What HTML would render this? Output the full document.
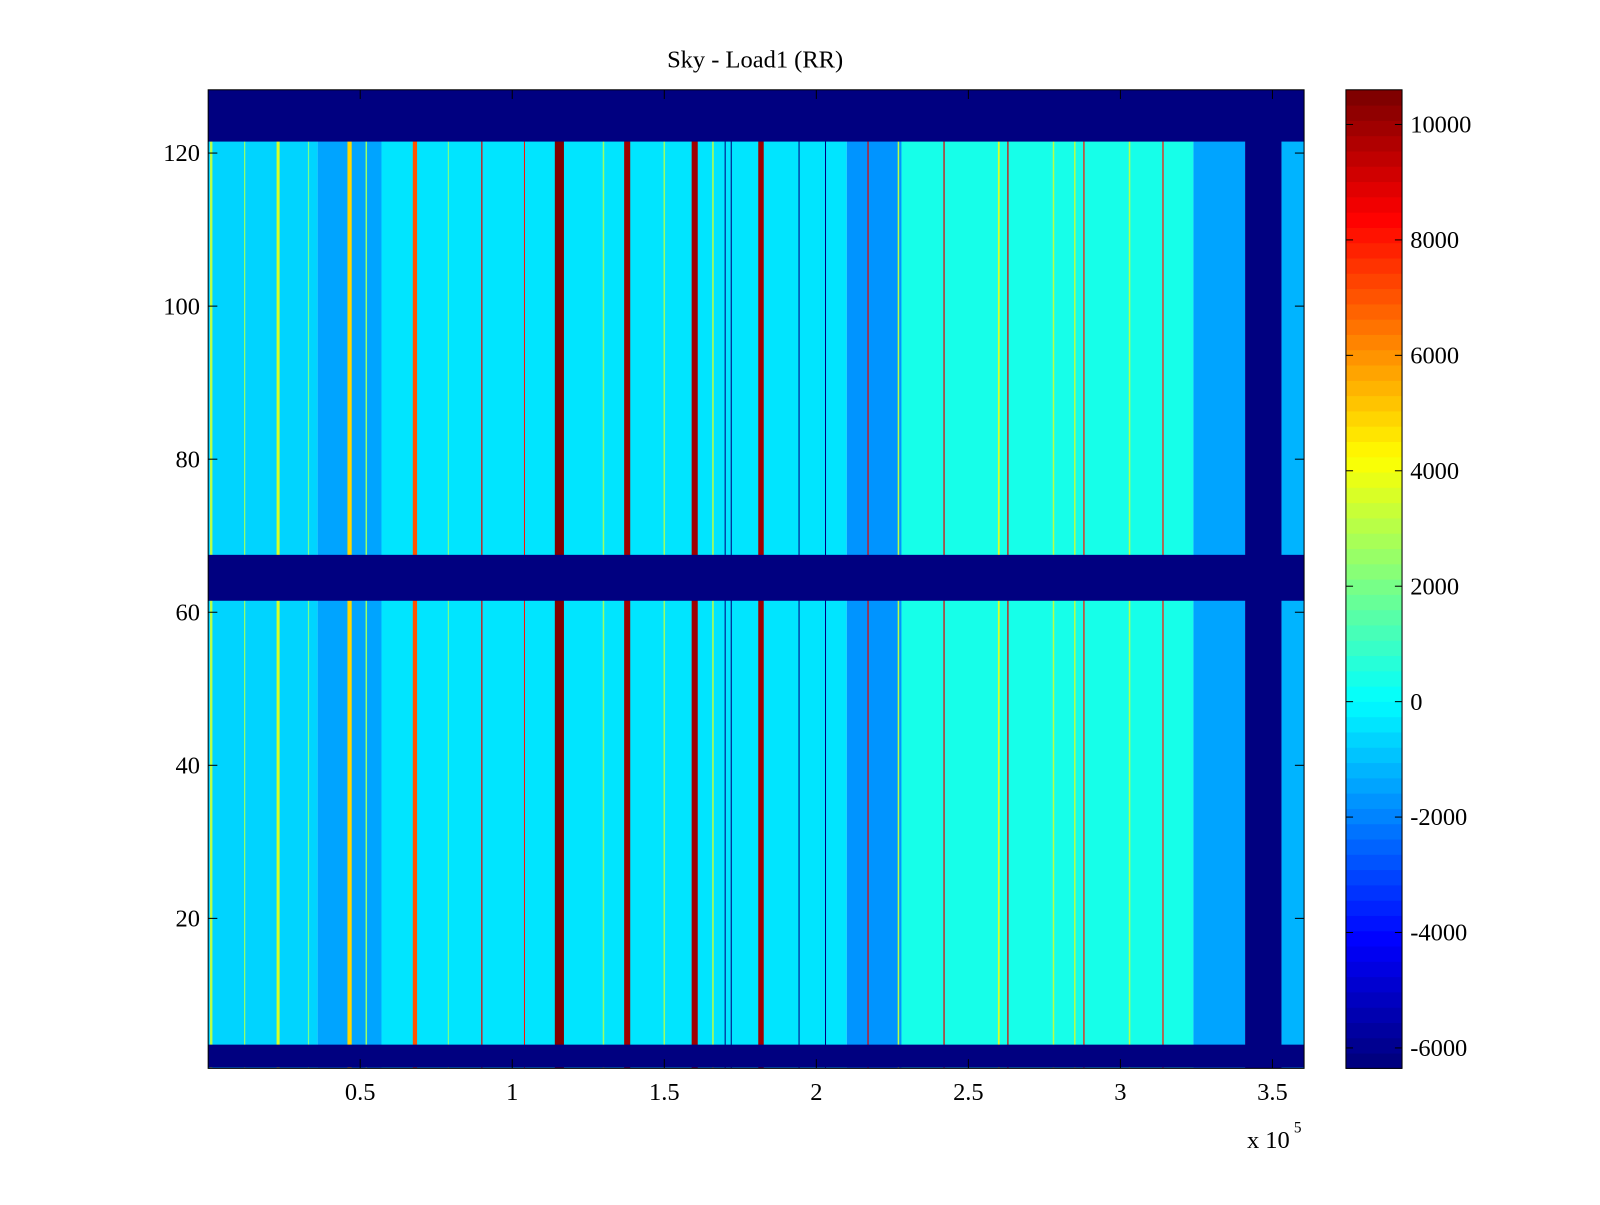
<!DOCTYPE html>
<html><head><meta charset="utf-8"><style>
body{margin:0;background:#fff;width:1600px;height:1200px;overflow:hidden}
svg text{font-family:"Liberation Serif",serif;fill:#000}
</style></head><body>
<svg id="chart" width="1600" height="1200" viewBox="0 0 1600 1200" xmlns="http://www.w3.org/2000/svg">
<rect width="1600" height="1200" fill="#fff"/>
<g transform="scale(1.020408)">
<text x="740" y="66" font-size="24" text-anchor="middle">Sky - Load1 (RR)</text>
<g id="plot"></g>
<g id="cbar"></g>
<g id="axes"></g>
</g>
</svg>
<script>
// data (x in units of 1e5)
const regionStarts=[0,0.36,0.57,2.1,2.28,3.24,3.41,3.53];
const regionEnds=[0.36,0.57,2.1,2.28,3.24,3.41,3.53,3.604];
const regionValues=[-700,-1500,-500,-1700,500,-1500,-6200,-1100];
const stripeX=[0.01,0.23,0.465,0.68,1.155,1.378,1.60,1.818,0.9,1.04,1.70,1.72,1.943,2.03,2.17,2.42,2.63,2.88,3.14,0.12,0.52,1.3,1.5,1.66,2.27,2.6,2.78,2.85,3.03,0.79,0.33];
const stripeW=[0.008,0.01,0.014,0.014,0.03,0.02,0.02,0.018,0.004,0.003,0.003,0.003,0.003,0.003,0.004,0.004,0.004,0.004,0.004,0.004,0.005,0.005,0.005,0.005,0.005,0.006,0.005,0.005,0.005,0.004,0.004];
const stripeV=[3000,3500,5000,7000,10500,10000,10000,10000,9000,8000,-6300,-6300,-6300,-6300,9000,9000,9000,8000,8000,2500,2500,2500,2500,3000,3000,3500,3000,3000,3000,2000,2000];
const maskRowStart=[1,62,122];
const maskRowEnd=[3,67,128];
const xTicks=[0.5,1,1.5,2,2.5,3,3.5];
const xTickLabels=["0.5","1","1.5","2","2.5","3","3.5"];
const yTicks=[20,40,60,80,100,120];
const cTicks=[-6000,-4000,-2000,0,2000,4000,6000,8000,10000];

const NS="http://www.w3.org/2000/svg";
const L=204,R=1278,T=88,B=1047;
const xS=v=>L+(v/3.604)*(R-L);
const yS=r=>1050-r*7.5;
const cMin=-6354,cMax=10601;
const cS=v=>B-(v-cMin)/(cMax-cMin)*(B-T);
function jet(v){let t=(v-cMin)/(cMax-cMin);t=Math.max(0,Math.min(1,t));t=Math.floor(t*63.999)/63;
 const c=x=>Math.round(255*Math.max(0,Math.min(1,x)));
 return `rgb(${c(1.5-Math.abs(4*t-3))},${c(1.5-Math.abs(4*t-2))},${c(1.5-Math.abs(4*t-1))})`;}
function rect(g,x,y,w,h,f,name){const r=document.createElementNS(NS,'rect');
 r.setAttribute('x',x);r.setAttribute('y',y);r.setAttribute('width',Math.max(w,1));r.setAttribute('height',h);r.setAttribute('fill',f);
 
 
 g.appendChild(r);return r;}
function line(g,x1,y1,x2,y2,name){const l=document.createElementNS(NS,'line');
 l.setAttribute('x1',x1);l.setAttribute('y1',y1);l.setAttribute('x2',x2);l.setAttribute('y2',y2);l.setAttribute('stroke','#000');l.setAttribute('stroke-width','1');
 
 
 g.appendChild(l);}
function text(g,x,y,s,anchor,size,name){const t=document.createElementNS(NS,'text');
 t.setAttribute('x',x);t.setAttribute('y',y);t.setAttribute('text-anchor',anchor);t.setAttribute('font-size',size);t.textContent=s;
 
 
 g.appendChild(t);return t;}

const P=document.getElementById('plot');
regionStarts.forEach((s,i)=>rect(P,xS(s),T,xS(regionEnds[i])-xS(s),B-T,jet(regionValues[i]),'region-cell'));
stripeX.forEach((s,i)=>rect(P,xS(s-stripeW[i]/2),T,xS(stripeW[i])-L,B-T,jet(stripeV[i]),'stripe-cell'));
maskRowStart.forEach((s,i)=>{const y1=Math.max(T,yS(maskRowEnd[i]+0.5)),y2=Math.min(B,yS(s-0.5));rect(P,L,y1,R-L,y2-y1,jet(cMin),'masked-rows');});
const A=document.getElementById('axes');
const box=rect(A,L,T,R-L,B-T,'none','plot-frame');box.setAttribute('stroke','#000');
xTicks.forEach((v,i)=>{const x=xS(v);line(A,x,B,x,B-9,'x-tick');line(A,x,T,x,T+9,'x-tick');text(A,x,1078,xTickLabels[i],'middle',24,'x-tick-label');});
yTicks.forEach(v=>{const y=yS(v);line(A,L,y,L+9,y,'y-tick');line(A,R,y,R-9,y,'y-tick');text(A,196,y+8,String(v),'end',24,'y-tick-label');});
text(A,1222,1125,'x 10','start',24,'x-exponent');
text(A,1268,1110,'5','start',15,'x-exponent-power');
const C=document.getElementById('cbar');
const CL=1319,CR=1374;
for(let k=0;k<64;k++){const v0=cMin+(cMax-cMin)*k/64,v1=cMin+(cMax-cMin)*(k+1)/64;
 rect(C,CL,cS(v1),CR-CL,cS(v0)-cS(v1)+0.5,jet(v0+1),'colorbar-cell');}
const cb=rect(C,CL,T,CR-CL,B-T,'none','colorbar-frame');cb.setAttribute('stroke','#000');
cTicks.forEach(v=>{const y=cS(v);line(C,CL,y,CL+7,y,'colorbar-tick');line(C,CR,y,CR-7,y,'colorbar-tick');text(C,1382,y+8,String(v),'start',24,'colorbar-tick-label');});
</script>
</body></html>
